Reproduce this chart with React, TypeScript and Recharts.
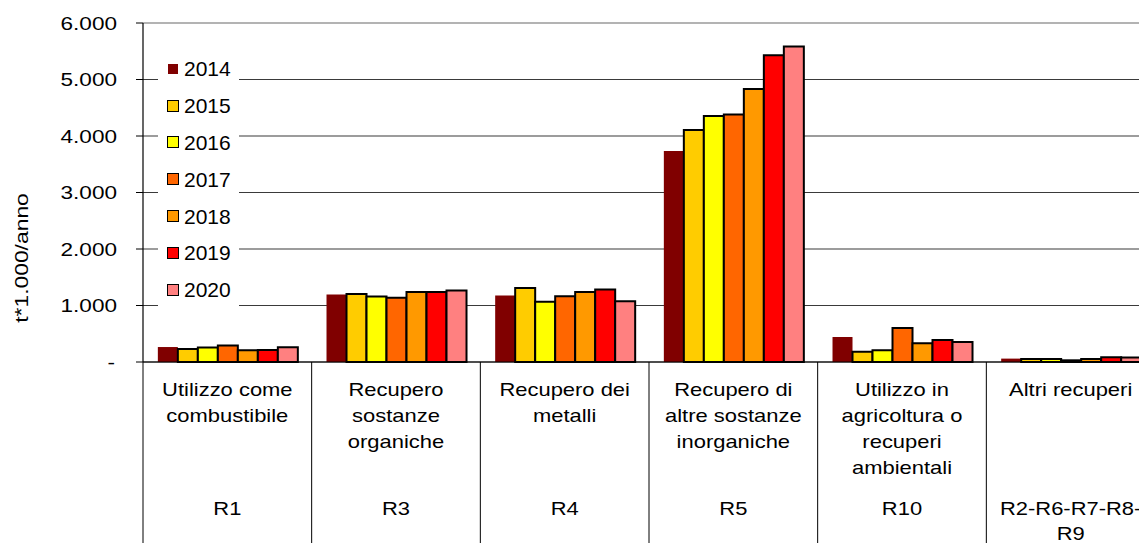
import React from 'react';
import { BarChart, Bar, XAxis, YAxis, CartesianGrid, Legend } from 'recharts';

const categoryLines = [
  ['Utilizzo come', 'combustibile'],
  ['Recupero', 'sostanze', 'organiche'],
  ['Recupero dei', 'metalli'],
  ['Recupero di', 'altre sostanze', 'inorganiche'],
  ['Utilizzo in', 'agricoltura o', 'recuperi', 'ambientali'],
  ['Altri recuperi'],
];
const codeLines = [['R1'], ['R3'], ['R4'], ['R5'], ['R10'], ['R2-R6-R7-R8-', 'R9']];

const years = ['2014', '2015', '2016', '2017', '2018', '2019', '2020'];
const colors = ['#800000', '#FFCC00', '#FFFF00', '#FF6600', '#FF9900', '#FF0000', '#FF8080'];

// t*1.000/anno per categoria (R1, R3, R4, R5, R10, altri)
const v2014 = [265, 1193, 1175, 3735, 442, 60];
const v2015 = [232, 1205, 1310, 4108, 180, 55];
const v2016 = [256, 1160, 1065, 4356, 210, 55];
const v2017 = [292, 1135, 1165, 4380, 603, 30];
const v2018 = [210, 1240, 1240, 4834, 333, 55];
const v2019 = [214, 1240, 1283, 5430, 391, 85];
const v2020 = [262, 1265, 1076, 5585, 356, 80];
const series = [v2014, v2015, v2016, v2017, v2018, v2019, v2020];

const yTicks = [0, 1000, 2000, 3000, 4000, 5000, 6000];

const data = categoryLines.map((_, i) => {
  const row: Record<string, any> = { name: codeLines[i].join('') };
  years.forEach((y, s) => {
    row[y] = series[s][i];
  });
  return row;
});

const FONT = '"Liberation Sans", Arial, sans-serif';
const STRETCH = 1.22;

const fmt = (v: number) => (v === 0 ? '-' : String(v).replace(/\B(?=(\d{3})+(?!\d))/g, '.'));

const YTick = (props: any) => {
  const { x, y, payload } = props;
  const dx = payload.value === 0 ? -2 : 0;
  return (
    <text
      transform={`translate(${x + dx},${y}) scale(${STRETCH},1)`}
      textAnchor="end"
      dominantBaseline="central"
      fontSize={18.5}
      fontFamily={FONT}
      fill="#000"
    >
      {fmt(payload.value)}
    </text>
  );
};

const XTick = (props: any) => {
  const { x, y, payload } = props;
  const idx = payload.index ?? props.index ?? 0;
  const off = payload.offset || 84.33;
  const lines = categoryLines[idx] || [];
  const codes = codeLines[idx] || [];
  return (
    <g>
      <line x1={x - off} y1={y} x2={x - off} y2={y + 200} stroke="#000" strokeWidth={1} />
      {idx === categoryLines.length - 1 && (
        <line x1={x + off} y1={y} x2={x + off} y2={y + 200} stroke="#000" strokeWidth={1} />
      )}
      {lines.map((t, k) => (
        <text
          key={'l' + k}
          transform={`translate(${x},${y + 28 + k * 26}) scale(${STRETCH},1)`}
          textAnchor="middle"
          dominantBaseline="central"
          fontSize={18}
          fontFamily={FONT}
          fill="#000"
        >
          {t}
        </text>
      ))}
      {codes.map((t, k) => (
        <text
          key={'c' + k}
          transform={`translate(${x},${y + 147 + k * 25}) scale(${STRETCH},1)`}
          textAnchor="middle"
          dominantBaseline="central"
          fontSize={18}
          fontFamily={FONT}
          fill="#000"
        >
          {t}
        </text>
      ))}
    </g>
  );
};

const YLabel = () => (
  <text
    transform="translate(13,250) rotate(-90) scale(1.27,1)"
    textAnchor="middle"
    dominantBaseline="central"
    fontSize={18}
    fontFamily={FONT}
    fill="#000"
  >
    t*1.000/anno
  </text>
);

const LegendBox = (props: any) => {
  const items = props.payload || [];
  return (
    <div style={{ background: '#fff', paddingLeft: 9, fontFamily: FONT }}>
      {items.map((it: any, i: number) => (
        <div key={it.value} style={{ height: 36.8, display: 'flex', alignItems: 'center' }}>
          <span
            style={{
              width: 12,
              height: 12,
              boxSizing: 'border-box',
              background: it.color,
              border: i === 0 ? '1px solid #fff' : '1.5px solid #000',
              marginRight: 5,
              display: 'inline-block',
            }}
          />
          <span style={{ fontSize: 21, lineHeight: 1, color: '#000' }}>{it.value}</span>
        </div>
      ))}
    </div>
  );
};

const gridLine = (p: any) => {
  const { key, index, ...rest } = p;
  return (
    <line
      key={key}
      x1={p.x1}
      y1={p.y1}
      x2={p.x2}
      y2={p.y2}
      stroke={p.y1 < 20 ? '#9a9a9a' : '#3a3a3a'}
      strokeWidth={p.y1 < 20 ? 1.6 : 1.2}
      fill="none"
    />
  );
};

export default function App() {
  return (
    <div style={{ width: 1139, height: 535, overflow: 'hidden', fontFamily: FONT }}>
      <BarChart
        width={1160}
        height={535}
        data={data}
        margin={{ top: 15, right: 13, left: 0, bottom: 0 }}
        barCategoryGap="8.8%"
        barGap={0}
      >
        <CartesianGrid vertical={false} horizontal={gridLine} />
        <XAxis
          dataKey="name"
          height={181}
          interval={0}
          tickSize={0}
          tickMargin={0}
          tickLine={false}
          axisLine={{ stroke: '#000', strokeWidth: 1.2 }}
          tick={<XTick />}
        />
        <YAxis
          width={135}
          domain={[0, 6000]}
          ticks={yTicks}
          interval={0}
          tickSize={7}
          tickMargin={19}
          tickLine={{ stroke: '#000' }}
          axisLine={{ stroke: '#000', strokeWidth: 1.2 }}
          tick={<YTick />}
          label={<YLabel />}
        />
        <Legend
          layout="vertical"
          align="center"
          verticalAlign="middle"
          content={<LegendBox />}
          wrapperStyle={{ left: 150, top: 42.5, width: 81, height: 257.6 }}
        />
        {years.map((y, i) => (
          <Bar
            key={y}
            dataKey={y}
            name={y}
            fill={colors[i]}
            stroke={i === 0 ? 'none' : '#000'}
            strokeWidth={i === 0 ? 0 : 2}
            isAnimationActive={false}
          />
        ))}
      </BarChart>
    </div>
  );
}
